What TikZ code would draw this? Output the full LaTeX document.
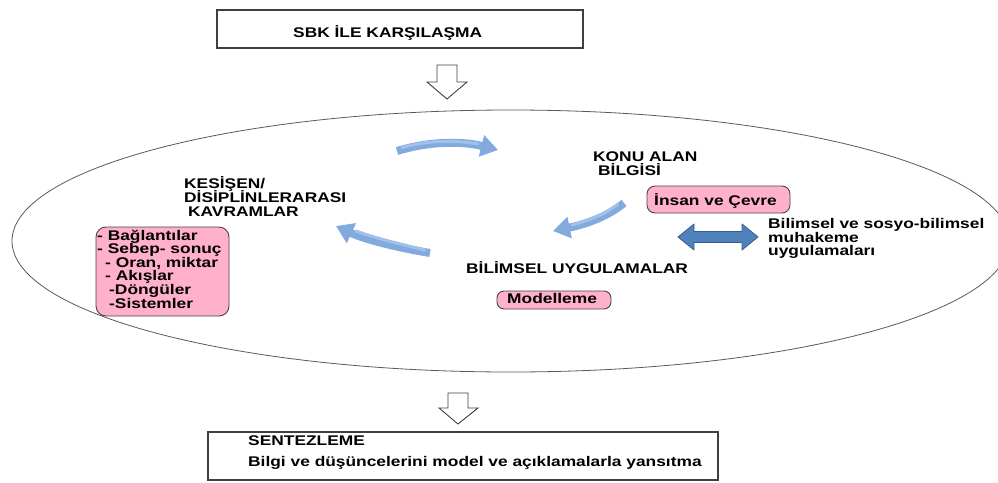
\documentclass[tikz,border=0pt]{standalone}
\usepackage{fontspec}
\setmainfont{Liberation Sans}[FakeStretch=1.24]
\usetikzlibrary{arrows.meta}
\definecolor{boxgray}{RGB}{64,64,64}
\definecolor{ellgray}{RGB}{90,90,90}
\definecolor{pinkfill}{RGB}{255,176,202}
\definecolor{pinkedge}{RGB}{70,70,70}
\definecolor{cycleblue}{RGB}{130,170,222}
\definecolor{cyclelight}{RGB}{160,193,236}
\definecolor{dblfill}{RGB}{79,129,189}
\definecolor{dbledge}{RGB}{56,93,138}
\begin{document}
\begin{tikzpicture}[x=1pt,y=-1pt,
  lbl/.style={anchor=base west, inner sep=0pt, font=\bfseries\fontsize{14}{14}\selectfont},
  framebox/.style={draw=boxgray, line width=1.1pt, fill=white, inner sep=0pt},
  pinkbox/.style={draw=pinkedge, fill=pinkfill, line width=0.9pt, rounded corners=9pt},
  blockarrow/.style={draw=boxgray, fill=white, line width=0.9pt, line join=miter},
  cyclearrow/.style={draw=cycleblue, line width=8pt, -{Triangle[width=21pt,length=17pt]}},
  cyclehi/.style={draw=cyclelight, line width=3pt, line cap=round},
  dblarrow/.style={draw=dbledge, fill=dblfill, line width=0.8pt, line join=round},
]
\useasboundingbox (0,0) rectangle (998,482);
\fill[white] (0,0) rectangle (998,482);
\clip (0,0) rectangle (998,482);

% big ellipse
\draw[ellgray, line width=0.8pt] (510.7,241) ellipse [x radius=498.7pt, y radius=131pt];

% top box
\draw[framebox] (217,10) rectangle (583,48);
\node[lbl] (sbk) at (293,37) {SBK İLE KARŞILAŞMA};

% block arrow 1
\draw[blockarrow] (437,65) -- (457,65) -- (457,82) -- (467,82) -- (447,99) -- (427,82) -- (437,82) -- cycle;

% cycle arrows
\coordinate (t1) at (397,151);
\coordinate (t2) at (498,150);
\coordinate (r1) at (624,203);
\coordinate (r2) at (553,231);
\coordinate (l1) at (430,253);
\coordinate (l2) at (336,226);
\draw[cyclearrow] (t1) .. controls (430,141) and (462,141) .. (t2);
\draw[cyclearrow] (r1) .. controls (606,218) and (582,225) .. (r2);
\draw[cyclearrow] (l1) .. controls (400,248) and (366,240) .. (l2);
\draw[cyclehi] (402,147.5) .. controls (430,140) and (455,140) .. (478,144);
\draw[cyclehi] (618,204) .. controls (604,215) and (590,220) .. (572,225);
\draw[cyclehi] (425,250) .. controls (400,244) and (375,238) .. (356,231);

% Konu alan bilgisi
\node[lbl] (konu) at (593,161) {KONU ALAN};
\node[lbl] (bilgisi) at (598,175) {BİLGİSİ};
\draw[pinkbox, rounded corners=8pt] (647,186) rectangle (790,213);
\node[lbl] (insan) at (654,205) {İnsan ve Çevre};

% double arrow
\draw[dblarrow] (678,237) -- (694,224) -- (694,231.5) -- (742,231.5) -- (742,224) -- (758,237) -- (742,250) -- (742,242.5) -- (694,242.5) -- (694,250) -- cycle;
\node[lbl] (bil1) at (768,228) {Bilimsel ve sosyo-bilimsel};
\node[lbl] (bil2) at (768,242) {muhakeme};
\node[lbl] (bil3) at (768,255) {uygulamaları};

% Bilimsel uygulamalar
\node[lbl] (uyg) at (466,273) {BİLİMSEL UYGULAMALAR};
\draw[pinkbox, rounded corners=7pt] (497,291) rectangle (611,309);
\node[lbl] (model) at (507,303) {Modelleme};

% Kesisen
\node[lbl] (kes1) at (184,188) {KESİŞEN/};
\node[lbl] (kes2) at (184,202) {DİSİPLİNLERARASI};
\node[lbl] (kes3) at (188,216) {KAVRAMLAR};
\draw[pinkbox, rounded corners=10pt] (96,227) rectangle (229,316);
\node[lbl] (p1) at (97,240) {- Bağlantılar};
\node[lbl] (p2) at (97,253.6) {- Sebep- sonuç};
\node[lbl] (p3) at (105,267.2) {- Oran, miktar};
\node[lbl] (p4) at (105,280.8) {- Akışlar};
\node[lbl] (p5) at (109,294.4) {-Döngüler};
\node[lbl] (p6) at (109,308) {-Sistemler};

% block arrow 2
\draw[blockarrow] (448,393) -- (468,393) -- (468,408) -- (478,408) -- (458,424) -- (439,408) -- (448,408) -- cycle;

% bottom box
\draw[framebox] (208,432) rectangle (718,480);
\node[lbl] (sent) at (248,445) {SENTEZLEME};
\node[lbl] (sent2) at (248,466) {Bilgi ve düşüncelerini model ve açıklamalarla yansıtma};
\end{tikzpicture}
\end{document}
